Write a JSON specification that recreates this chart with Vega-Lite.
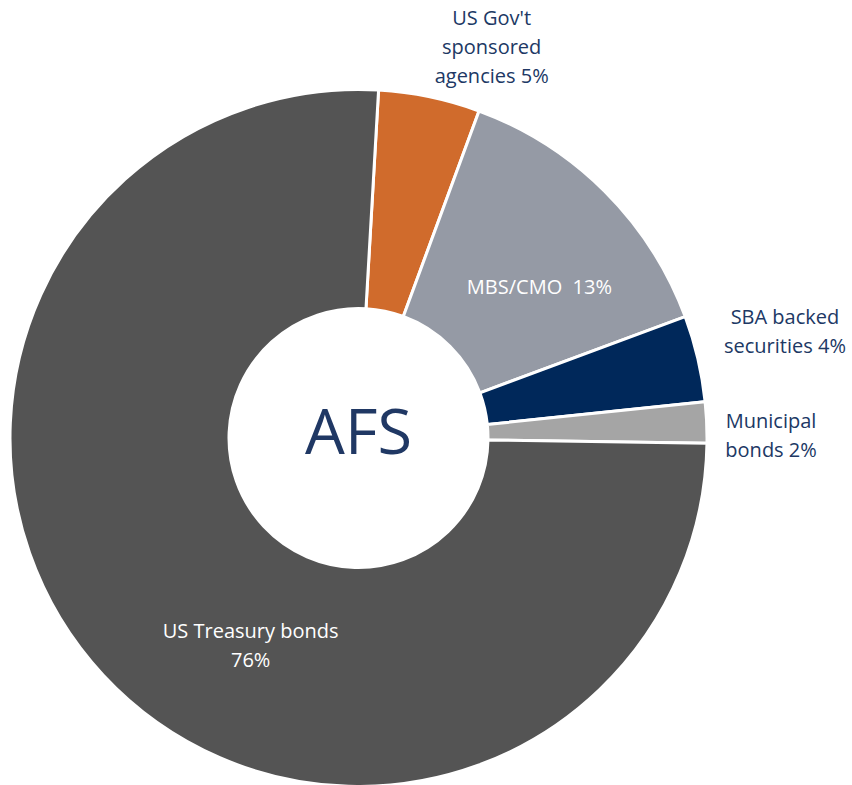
{
  "$schema": "https://vega.github.io/schema/vega-lite/v6.json",
  "width": 694,
  "height": 694,
  "autosize": "none",
  "padding": {"left": 11.5, "top": 91, "right": 146.5, "bottom": 0},
  "background": "white",
  "config": {"view": {"stroke": null}, "text": {"font": "Open Sans"}},
  "data": {
    "values": [
      {"cat": "agencies", "label": "US Gov't\nsponsored\nagencies 5%", "value": 4.7, "order": 1},
      {"cat": "MBS", "label": "MBS/CMO\u00a0 13%", "value": 13.7, "order": 2},
      {"cat": "SBA", "label": "SBA backed\nsecurities 4%", "value": 4.0, "order": 3},
      {"cat": "Municipal", "label": "Municipal\nbonds 2%", "value": 1.9, "order": 4},
      {"cat": "Treasury", "label": "US Treasury bonds\n76%", "value": 75.6, "order": 5}
    ]
  },
  "layer": [
    {
      "mark": {"type": "arc", "outerRadius": 348.5, "innerRadius": 129.5, "stroke": "white", "strokeWidth": 3},
      "encoding": {
        "theta": {"field": "value", "type": "quantitative", "stack": true, "scale": {"range": [0.0576, 6.3408]}},
        "order": {"field": "order", "type": "quantitative", "sort": "ascending"},
        "color": {
          "field": "cat", "type": "nominal", "legend": null,
          "scale": {"domain": ["agencies", "MBS", "SBA", "Municipal", "Treasury"],
                    "range": ["#D06B2C", "#959AA5", "#00285A", "#A5A5A5", "#545454"]}
        }
      }
    },
    {
      "mark": {"type": "text", "radius": 398, "dx": 52, "dy": -29, "fontSize": 20, "lineHeight": 29, "lineBreak": "\n", "color": "#203864", "align": "center", "baseline": "middle"},
      "encoding": {
        "theta": {"field": "value", "type": "quantitative", "stack": true},
        "order": {"field": "order", "type": "quantitative", "sort": "ascending"},
        "text": {"condition": {"test": "datum.cat === 'agencies'", "field": "label"}, "value": ""}
      }
    },
    {
      "mark": {"type": "text", "radius": 235, "dx": 15, "dy": 16, "fontSize": 20, "lineHeight": 29, "lineBreak": "\n", "color": "white", "align": "center", "baseline": "middle"},
      "encoding": {
        "theta": {"field": "value", "type": "quantitative", "stack": true},
        "order": {"field": "order", "type": "quantitative", "sort": "ascending"},
        "text": {"condition": {"test": "datum.cat === 'MBS'", "field": "label"}, "value": ""}
      }
    },
    {
      "mark": {"type": "text", "radius": 438, "dx": 0, "dy": -20, "fontSize": 20, "lineHeight": 29, "lineBreak": "\n", "color": "#203864", "align": "center", "baseline": "middle"},
      "encoding": {
        "theta": {"field": "value", "type": "quantitative", "stack": true},
        "order": {"field": "order", "type": "quantitative", "sort": "ascending"},
        "text": {"condition": {"test": "datum.cat === 'SBA'", "field": "label"}, "value": ""}
      }
    },
    {
      "mark": {"type": "text", "radius": 413, "dx": 0, "dy": 2, "fontSize": 20, "lineHeight": 29, "lineBreak": "\n", "color": "#203864", "align": "center", "baseline": "middle"},
      "encoding": {
        "theta": {"field": "value", "type": "quantitative", "stack": true},
        "order": {"field": "order", "type": "quantitative", "sort": "ascending"},
        "text": {"condition": {"test": "datum.cat === 'Municipal'", "field": "label"}, "value": ""}
      }
    },
    {
      "mark": {"type": "text", "radius": 221, "dx": 54, "dy": 44, "fontSize": 20, "lineHeight": 29, "lineBreak": "\n", "color": "white", "align": "center", "baseline": "middle"},
      "encoding": {
        "theta": {"field": "value", "type": "quantitative", "stack": true},
        "order": {"field": "order", "type": "quantitative", "sort": "ascending"},
        "text": {"condition": {"test": "datum.cat === 'Treasury'", "field": "label"}, "value": ""}
      }
    },
    {
      "data": {"values": [{"title": "AFS"}]},
      "mark": {"type": "text", "fontSize": 63, "color": "#203864", "align": "center", "baseline": "alphabetic", "dy": 16},
      "encoding": {"text": {"field": "title", "type": "nominal"}}
    }
  ]
}
